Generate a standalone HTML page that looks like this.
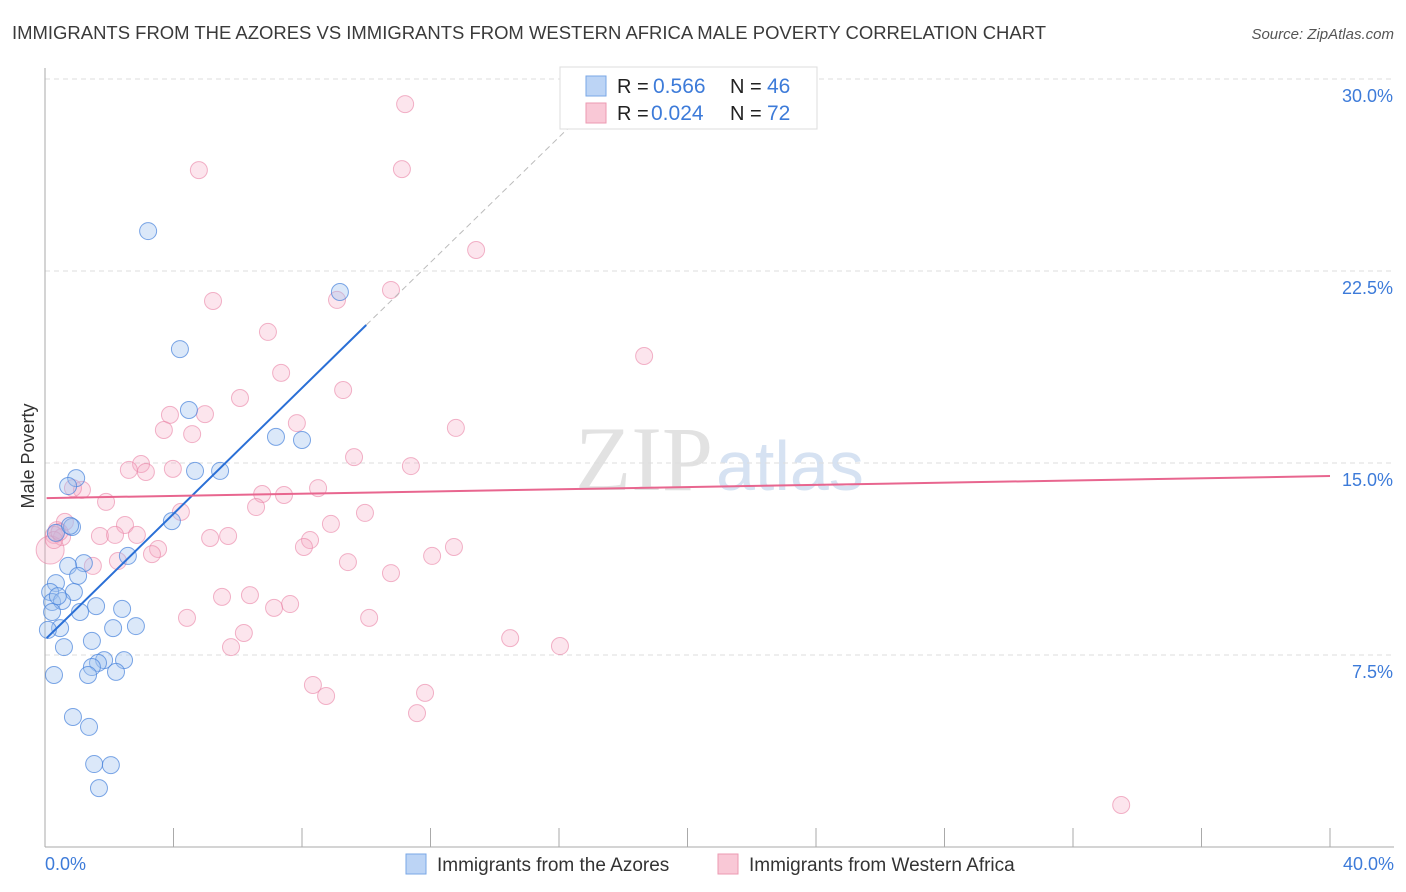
<!DOCTYPE html>
<html><head><meta charset="utf-8"><style>
body{margin:0;background:#fff;font-family:"Liberation Sans",sans-serif}
#wrap{position:relative;width:1406px;height:892px;overflow:hidden}
</style></head><body>
<div id="wrap">
<svg id="chart" width="1406" height="892" xmlns="http://www.w3.org/2000/svg">
<text x="12" y="39" font-size="18" fill="#3a3a3a" textLength="1034" lengthAdjust="spacingAndGlyphs">IMMIGRANTS FROM THE AZORES VS IMMIGRANTS FROM WESTERN AFRICA MALE POVERTY CORRELATION CHART</text>
<text x="1394" y="39" font-size="15" fill="#555" font-style="italic" text-anchor="end">Source: ZipAtlas.com</text>
<text x="713" y="490" font-size="92" fill="#e2e2e2" text-anchor="end" font-family="Liberation Serif,serif">ZIP</text>
<text x="716" y="490" font-size="70" fill="#d6e2f2">atlas</text>
<g id="grid"></g><g id="axes"></g><g id="marks"></g>
<text transform="translate(34,456) rotate(-90)" font-size="18" fill="#333" text-anchor="middle">Male Poverty</text>
<text x="45" y="870" font-size="18" fill="#3d7bd9">0.0%</text>
<text x="1394" y="870" font-size="18" fill="#3d7bd9" text-anchor="end">40.0%</text>
<g>
<rect x="560" y="67" width="257" height="62" fill="#fff" stroke="#ddd"/>
<rect x="586" y="76" width="20" height="20" fill="#bcd4f5" stroke="#7aa7e6"/>
<rect x="586" y="103" width="20" height="20" fill="#f9c8d6" stroke="#ec9ab2"/>
<text x="617" y="93" font-size="20" fill="#222">R =</text>
<text x="653" y="93" font-size="21" fill="#3d7bd9">0.566</text>
<text x="730" y="93" font-size="20" fill="#222">N =</text>
<text x="767" y="93" font-size="21" fill="#3d7bd9">46</text>
<text x="617" y="120" font-size="20" fill="#222">R =</text>
<text x="651" y="120" font-size="21" fill="#3d7bd9">0.024</text>
<text x="730" y="120" font-size="20" fill="#222">N =</text>
<text x="767" y="120" font-size="21" fill="#3d7bd9">72</text>
</g>
<g>
<rect x="406" y="854" width="20" height="20" fill="#bcd4f5" stroke="#7aa7e6"/>
<text x="437" y="871" font-size="19" fill="#333">Immigrants from the Azores</text>
<rect x="718" y="854" width="20" height="20" fill="#f9c8d6" stroke="#ec9ab2"/>
<text x="749" y="871" font-size="19" fill="#333">Immigrants from Western Africa</text>
</g>
</svg>
</div>
<script>
const yTicks=[7.5,15,22.5,30];
const yTickLabels=["7.5%","15.0%","22.5%","30.0%"];
const xTicks=[0,4,8,12,16,20,24,28,32,36,40];
const azoresX=[3.21,4.20,9.18,4.48,7.19,8.00,4.67,5.45,0.97,0.72,0.84,3.95,2.58,0.34,1.21,0.72,1.03,0.34,0.90,0.16,0.22,0.53,1.59,1.09,2.40,2.12,2.83,0.47,0.09,1.46,0.59,1.84,2.46,1.65,1.46,2.21,1.34,0.28,0.87,1.37,1.53,2.05,1.68,0.22,0.40,0.78];
const azoresY=[24.06,19.45,21.68,17.07,16.02,15.90,14.69,14.69,14.41,14.10,12.50,12.73,11.37,12.27,11.09,10.98,10.59,10.31,9.96,9.96,9.57,9.61,9.41,9.18,9.30,8.55,8.63,8.55,8.48,8.05,7.81,7.30,7.30,7.19,7.03,6.84,6.72,6.72,5.08,4.69,3.24,3.20,2.30,9.18,9.80,12.55];
const wafX=[11.21,4.79,11.11,13.42,5.23,10.77,9.09,6.94,18.65,7.35,9.28,6.07,3.89,4.98,7.84,3.70,4.58,12.79,9.62,2.99,2.61,3.98,3.14,11.39,1.15,0.87,8.50,6.76,7.44,1.90,6.57,4.23,9.96,0.62,8.90,2.49,0.37,0.28,0.53,1.71,2.18,2.86,5.70,5.14,8.25,8.06,12.73,3.52,3.33,12.05,9.43,2.27,1.49,10.77,6.38,5.51,7.63,7.13,4.42,10.09,6.19,5.79,14.48,16.03,8.34,8.75,11.83,11.58,33.50,0.16,0.28,0.45];
const wafY=[29.02,26.44,26.48,23.32,21.33,21.76,21.37,20.12,19.18,18.52,17.85,17.54,16.88,16.91,16.56,16.29,16.13,16.37,15.23,14.96,14.73,14.77,14.65,14.88,13.95,14.02,14.02,13.79,13.75,13.48,13.28,13.09,13.05,12.70,12.62,12.58,12.38,12.19,12.11,12.15,12.19,12.19,12.15,12.07,11.99,11.72,11.72,11.64,11.44,11.37,11.13,11.17,10.98,10.70,9.84,9.77,9.49,9.34,8.95,8.95,8.36,7.81,8.16,7.85,6.33,5.90,6.02,5.23,1.64,11.60,11.99,12.30];
const azoresTrend=[8.16,1.223];
const wafTrend=[13.63,0.0215];
const X=v=>45+v/40*1285;
const Y=v=>847-v/7.5*192;
const NS="http://www.w3.org/2000/svg";
function mk(tag,attrs,parent){const e=document.createElementNS(NS,tag);for(const k in attrs)e.setAttribute(k,attrs[k]);parent.appendChild(e);return e;}
const grid=document.getElementById('grid'),axes=document.getElementById('axes'),marks=document.getElementById('marks');
yTicks.forEach((t,i)=>{
 const l=mk('line',{x1:45,x2:1394,y1:Y(t),y2:Y(t),stroke:'#ddd','stroke-dasharray':'5,4'},grid);
 
 
 const tx=mk('text',{x:1393,y:Y(t)+23,'font-size':18,fill:'#3d7bd9','text-anchor':'end'},axes);
 tx.textContent=yTickLabels[i];
 
 
});
const ax=mk('line',{x1:45,x2:45,y1:68,y2:847,stroke:'#aaa'},axes);


const bx=mk('line',{x1:45,x2:1394,y1:847,y2:847,stroke:'#aaa'},axes);


xTicks.forEach(t=>{
 const l=mk('line',{x1:X(t),x2:X(t),y1:828,y2:847,stroke:'#aaa'},axes);
 
 
});
wafX.forEach((x,i)=>{
 const c=mk('circle',{cx:X(x),cy:Y(wafY[i]),r:i==69?14:8.5,fill:'rgba(246,170,195,0.3)',stroke:'rgba(234,130,165,0.6)','stroke-width':1},marks);
 
 
});
azoresX.forEach((x,i)=>{
 const c=mk('circle',{cx:X(x),cy:Y(azoresY[i]),r:8.5,fill:'rgba(160,195,240,0.38)',stroke:'rgba(70,130,220,0.7)','stroke-width':1},marks);
 
 
});
const bEnd=10,bDash=(30.3-azoresTrend[0])/azoresTrend[1];
const bl=mk('line',{x1:X(0.05),y1:Y(azoresTrend[0]),x2:X(bEnd),y2:Y(azoresTrend[0]+azoresTrend[1]*bEnd),stroke:'#2a6fd6','stroke-width':2},marks);


const bd=mk('line',{x1:X(bEnd),y1:Y(azoresTrend[0]+azoresTrend[1]*bEnd),x2:X(bDash),y2:Y(30.3),stroke:'#bbb','stroke-width':1,'stroke-dasharray':'6,4'},marks);


const pl=mk('line',{x1:X(0.05),y1:Y(wafTrend[0]),x2:X(40),y2:Y(wafTrend[0]+wafTrend[1]*40),stroke:'#e8668f','stroke-width':2},marks);


</script>
</body></html>
